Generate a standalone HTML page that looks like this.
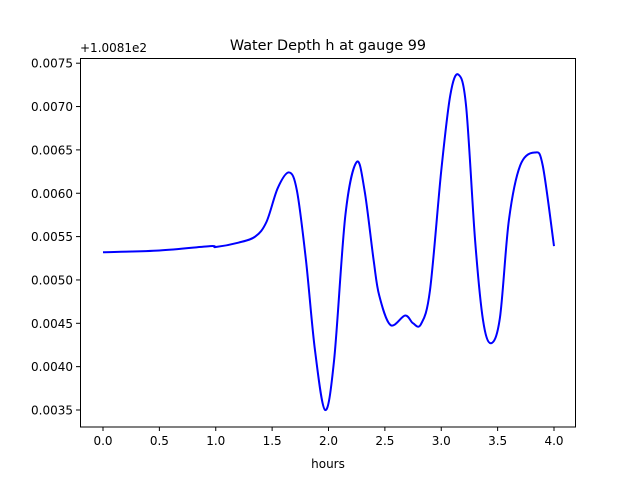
<!DOCTYPE html>
<html><head><meta charset="utf-8"><style>
body{margin:0;background:#fff;}
svg{display:block;font-family:"DejaVu Sans","Liberation Sans",sans-serif;}
</style></head><body>
<svg id="chart" width="640" height="480" xmlns="http://www.w3.org/2000/svg">
<rect width="640" height="480" fill="#fff"/>
<text x="328" y="50" font-size="14.4" text-anchor="middle">Water Depth h at gauge 99</text>
<text x="80" y="52" font-size="12">+1.0081e2</text>
<text x="328" y="468" font-size="12" text-anchor="middle">hours</text>
<g id="xt"></g>
<g id="yt"></g>
<path id="line" fill="none" stroke="#0000ff" stroke-width="2"/>
<rect x="80.5" y="58.5" width="495" height="368.5" fill="none" stroke="#000" stroke-width="1"/>
</svg>
<script>
const hours=[0,0.5,0.95,1.0,1.2,1.35,1.45,1.55,1.65,1.72,1.8,1.88,1.97,2.05,2.15,2.25,2.32,2.4,2.45,2.55,2.68,2.75,2.82,2.9,3.0,3.08,3.15,3.22,3.3,3.37,3.44,3.52,3.6,3.7,3.83,3.9,4.0];
const depth=[0.00532,0.00534,0.00539,0.00538,0.00543,0.0055,0.00567,0.00606,0.00624,0.00603,0.00523,0.00419,0.0035,0.00408,0.00575,0.00636,0.00603,0.00523,0.00482,0.00448,0.00459,0.0045,0.00449,0.00488,0.00626,0.00713,0.00737,0.00701,0.00546,0.00454,0.00427,0.00456,0.00569,0.00632,0.00647,0.00632,0.00539];
const xTicks=[0,0.5,1.0,1.5,2.0,2.5,3.0,3.5,4.0];
const yTicks=[0.0035,0.004,0.0045,0.005,0.0055,0.006,0.0065,0.007,0.0075];
const NS="http://www.w3.org/2000/svg";
function sx(t){return 103+t*112.75;}
function sy(v){return 410-(v-0.0035)/0.0005*43.35;}
const xt=document.getElementById('xt'),yt=document.getElementById('yt');
xTicks.forEach(t=>{
  const l=document.createElementNS(NS,'line');
  
  
  l.setAttribute('x1',sx(t));l.setAttribute('x2',sx(t));l.setAttribute('y1',427);l.setAttribute('y2',431);l.setAttribute('stroke','#000');
  xt.appendChild(l);
  const tx=document.createElementNS(NS,'text');
  
  
  tx.setAttribute('x',sx(t));tx.setAttribute('y',445);tx.setAttribute('font-size','12');tx.setAttribute('text-anchor','middle');
  tx.textContent=t.toFixed(1);xt.appendChild(tx);
});
yTicks.forEach(v=>{
  const l=document.createElementNS(NS,'line');
  
  
  l.setAttribute('x1',76);l.setAttribute('x2',80);l.setAttribute('y1',sy(v));l.setAttribute('y2',sy(v));l.setAttribute('stroke','#000');
  yt.appendChild(l);
  const tx=document.createElementNS(NS,'text');
  
  
  tx.setAttribute('x',73);tx.setAttribute('y',sy(v)+4.5);tx.setAttribute('font-size','12');tx.setAttribute('text-anchor','end');
  tx.textContent=v.toFixed(4);yt.appendChild(tx);
});
const P=hours.map((t,i)=>[sx(t),sy(depth[i])]);
let d='M'+P[0][0]+','+P[0][1];
for(let i=0;i<P.length-1;i++){
  const p0=P[Math.max(0,i-1)],p1=P[i],p2=P[i+1],p3=P[Math.min(P.length-1,i+2)];
  const c1x=p1[0]+(p2[0]-p0[0])/6,c1y=p1[1]+(p2[1]-p0[1])/6;
  const c2x=p2[0]-(p3[0]-p1[0])/6,c2y=p2[1]-(p3[1]-p1[1])/6;
  d+=' C'+c1x+','+c1y+' '+c2x+','+c2y+' '+p2[0]+','+p2[1];
}
document.getElementById('line').setAttribute('d',d);
</script>
</body></html>
